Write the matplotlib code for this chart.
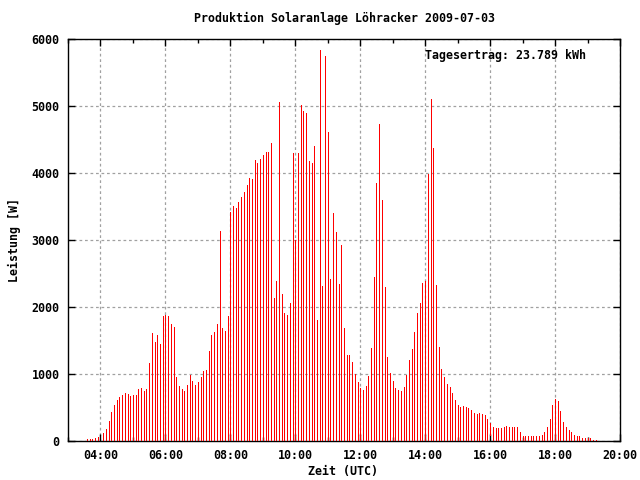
import matplotlib
matplotlib.use("Agg")
import matplotlib.pyplot as plt
import numpy as np
import pandas as pd

TITLE = "Produktion Solaranlage Löhracker 2009-07-03"
YIELD_TEXT = "Tagesertrag: 23.789 kWh"
START_TIME = "2009-07-03 03:35"
STEP = "5min"

# Leistung [W], one value per 5-minute interval starting at 03:35 (UTC)
power = [
    30, 30, 30, 45, 60,                                   # 03:35-03:55
    75, 120, 180, 300, 433, 537, 612, 657, 687, 716, 701, 672,          # 04
    687, 687, 776, 791, 746, 776, 1164, 1612, 1478, 1582, 1448, 1866,   # 05
    1875, 1860, 1751, 1706, 960, 826, 781, 751, 841, 990, 900, 841,     # 06
    886, 960, 1050, 1065, 1348, 1587, 1632, 1751, 3139, 1691, 1647, 1871,  # 07
    3423, 3512, 3483, 3572, 3647, 3721, 3826, 3930, 3915, 4199, 4154, 4214,  # 08
    4274, 4318, 4318, 4453, 2139, 2393, 5065, 2199, 1915, 1886, 2065, 4303,  # 09
    3005, 4303, 5020, 4930, 4900, 4184, 4154, 4408, 1811, 5841, 2318, 5751,  # 10
    4617, 2423, 3408, 3124, 2348, 2930, 1692, 1289, 1289, 1184, 1005, 886,   # 11
    796, 766, 826, 975, 1393, 2453, 3856, 4736, 3602, 2303, 1259, 1020,      # 12
    900, 796, 766, 751, 811, 990, 1214, 1378, 1632, 1915, 2065, 2363,        # 13
    2393, 3990, 5109, 4378, 2333, 1408, 1080, 960, 856, 811, 721, 617,       # 14
    542, 512, 527, 512, 497, 468, 423, 408, 423, 408, 393, 333,              # 15
    264, 214, 187, 187, 200, 216, 230, 216, 216, 216, 216, 127,              # 16
    82, 68, 68, 68, 68, 68, 82, 97, 141, 216, 335, 530,                      # 17
    620, 590, 455, 291, 216, 164, 141, 97, 82, 68, 52, 52,                   # 18
    38, 38, 22, 22,                                                          # 19:00-19:15
]

# short dark impulses seen at the hour marks
dark_times = ["2009-07-03 04:00", "2009-07-03 16:00"]
dark_power = [75, 75]

x_tick_labels = ["04:00", "06:00", "08:00", "10:00", "12:00", "14:00",
                 "16:00", "18:00", "20:00"]
y_ticks = [0, 1000, 2000, 3000, 4000, 5000, 6000]

times = pd.date_range(START_TIME, periods=len(power), freq=STEP)
day0 = pd.Timestamp("2009-07-03 00:00")
hours = (times - day0) / pd.Timedelta(hours=1)
dark_hours = (pd.to_datetime(dark_times) - day0) / pd.Timedelta(hours=1)

FONT = "DejaVu Sans Mono"
FS = 8.4
plt.rcParams["font.family"] = [FONT]
plt.rcParams["font.weight"] = "bold"

fig = plt.figure(figsize=(6.4, 4.8), dpi=100)
ax = fig.add_axes([68 / 640, 1 - 441 / 480, (620 - 68) / 640, (441 - 39) / 480])

ax.vlines(hours, 0, power, colors="#ff0000", linewidth=0.55, antialiased=False, zorder=3)
ax.vlines(dark_hours, 0, dark_power, colors="#000000", linewidth=0.55, antialiased=False, zorder=4)

ax.set_xlim(3, 20)
ax.set_ylim(0, 6000)

major_x = [int(s[:2]) for s in x_tick_labels]
ax.set_xticks(major_x)
ax.set_xticklabels(x_tick_labels)
ax.set_xticks(np.arange(3, 21, 1), minor=True)
ax.set_yticks(y_ticks)
ax.set_yticklabels([str(v) for v in y_ticks])

ax.grid(True, which="major", color="#a0a0a0", linestyle=(0, (2.2, 2.2)), linewidth=0.9, zorder=1)
ax.set_axisbelow(True)

ax.tick_params(which="major", direction="in", length=5, width=1.0, top=True, right=True,
               labelsize=FS, pad=6)
ax.tick_params(which="minor", direction="in", length=3, width=1.0, top=True, right=False,
               bottom=True)
for lab in ax.get_xticklabels() + ax.get_yticklabels():
    lab.set_fontweight("bold")

for sp in ax.spines.values():
    sp.set_linewidth(1.0)
    sp.set_color("black")

fig.text(344 / 640, 1 - 18 / 480, TITLE, ha="center", va="center", fontsize=FS, fontweight="bold")
fig.text(14 / 640, 1 - 240 / 480, "Leistung [W]", ha="center", va="center", rotation=90,
         fontsize=FS, fontweight="bold")
fig.text(343 / 640, 1 - 472 / 480, "Zeit (UTC)", ha="center", va="center", fontsize=FS,
         fontweight="bold")
ax.text((425 - 68) / 552, (441 - 56) / 402, YIELD_TEXT, transform=ax.transAxes, ha="left",
        va="center", fontsize=FS, fontweight="bold")

fig.savefig("out.png", dpi=100)
